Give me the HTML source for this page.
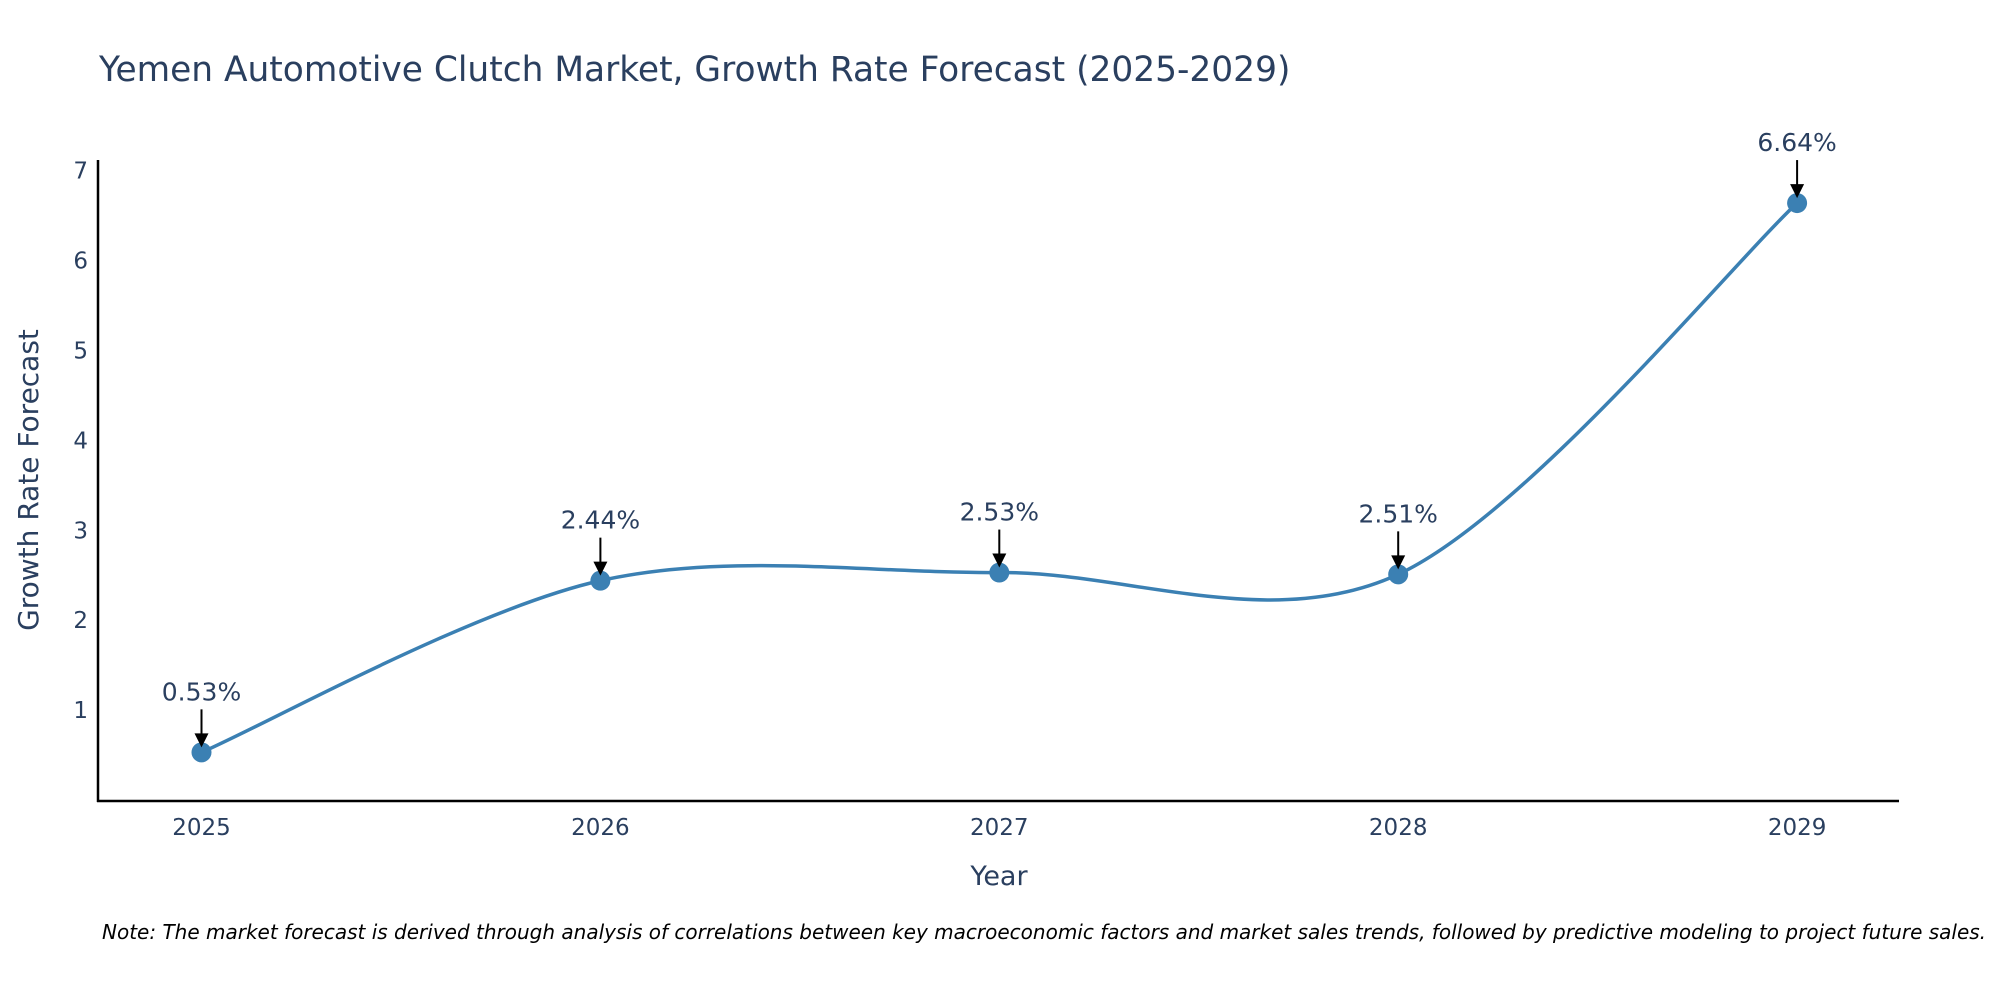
<!DOCTYPE html>
<html><head><meta charset="utf-8"><style>
body{margin:0;background:#fff;}
svg{display:block;font-family:"DejaVu Sans","Liberation Sans",sans-serif;}
</style></head><body>
<svg id="chart" width="2000" height="1000">
<text x="99" y="81" font-size="34.4" fill="#2a3f5f">Yemen Automotive Clutch Market, Growth Rate Forecast (2025-2029)</text>
<g id="yticks"></g>
<g id="xticks"></g>
<line x1="98" y1="160" x2="98" y2="802" stroke="#000" stroke-width="2.5"/>
<line x1="97" y1="801" x2="1899" y2="801" stroke="#000" stroke-width="2.5"/>
<path id="line" fill="none" stroke="#3b80b3" stroke-width="3.5"/>
<g id="points"></g>
<text x="0" y="0" transform="translate(38,480) rotate(-90)" text-anchor="middle" font-size="28" fill="#2a3f5f">Growth Rate Forecast</text>
<text x="999" y="885" text-anchor="middle" font-size="27" fill="#2a3f5f">Year</text>
<text x="102" y="939" font-size="20" font-style="italic" fill="#000">Note: The market forecast is derived through analysis of correlations between key macroeconomic factors and market sales trends, followed by predictive modeling to project future sales.</text>
</svg>
<script>
const years=[2025,2026,2027,2028,2029];
const values=[0.53,2.44,2.53,2.51,6.64];
const labels=["0.53%","2.44%","2.53%","2.51%","6.64%"];
const yTicks=[1,2,3,4,5,6,7];
const NS="http://www.w3.org/2000/svg";
function xs(y){return 201.5+(y-2025)*398.9;}
function ys(v){return 800-v*89.9;}
function mk(tag,attrs,parent){const e=document.createElementNS(NS,tag);for(const k in attrs)e.setAttribute(k,attrs[k]);parent.appendChild(e);return e;}
const yt=document.getElementById('yticks');
yTicks.forEach(t=>{const e=mk('text',{x:88,y:ys(t)+8,'text-anchor':'end','font-size':23,fill:'#2a3f5f'},yt);e.textContent=t;

});
const xt=document.getElementById('xticks');
years.forEach(t=>{const e=mk('text',{x:xs(t),y:835,'text-anchor':'middle','font-size':23,fill:'#2a3f5f'},xt);e.textContent=t;

});
const P=years.map((y,i)=>[xs(y),ys(values[i])]);
let d="M"+P[0][0]+","+P[0][1];
const k=0.16;
for(let i=0;i<P.length-1;i++){
 const p0=P[Math.max(i-1,0)],p1=P[i],p2=P[i+1],p3=P[Math.min(i+2,P.length-1)];
 const c1=[p1[0]+(p2[0]-p0[0])*k,p1[1]+(p2[1]-p0[1])*k];
 const c2=[p2[0]-(p3[0]-p1[0])*k,p2[1]-(p3[1]-p1[1])*k];
 d+=` C${c1[0]},${c1[1]} ${c2[0]},${c2[1]} ${p2[0]},${p2[1]}`;
}
document.getElementById('line').setAttribute('d',d);
const pts=document.getElementById('points');
P.forEach((p,i)=>{
 const c=mk('circle',{cx:p[0],cy:p[1],r:10,fill:'#3b80b3'},pts);
 
 
 const l=mk('line',{x1:p[0],y1:p[1]-43,x2:p[0],y2:p[1]-18,stroke:'#000','stroke-width':2},pts);
 
 
 const h=mk('polygon',{points:`${p[0]-7},${p[1]-19} ${p[0]+7},${p[1]-19} ${p[0]},${p[1]-5}`,fill:'#000'},pts);
 
 
 const t=mk('text',{x:p[0],y:p[1]-52,'text-anchor':'middle','font-size':25,fill:'#2a3f5f'},pts);
 t.textContent=labels[i];
 
 
});
</script>
</body></html>
